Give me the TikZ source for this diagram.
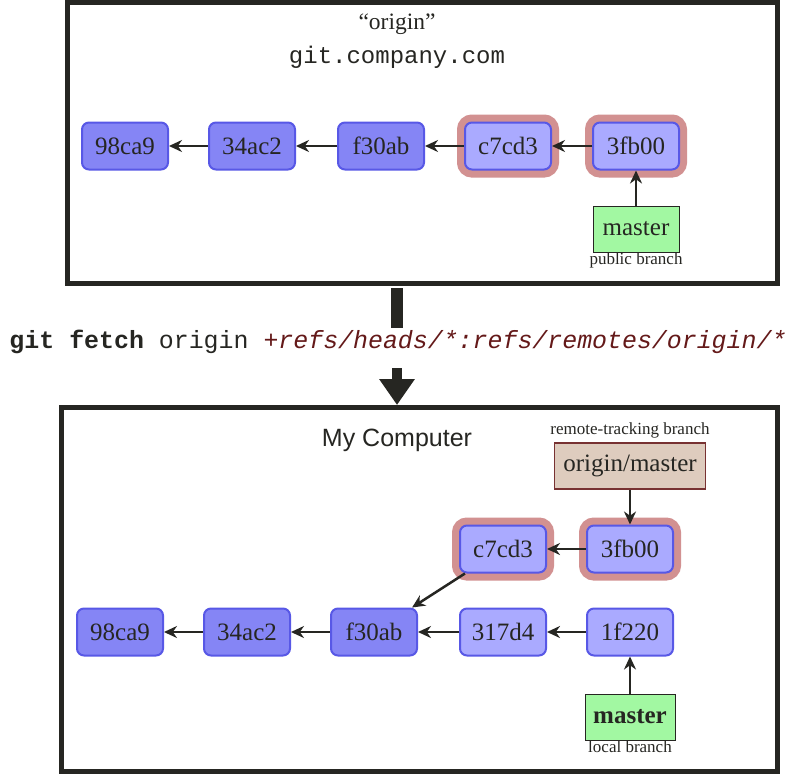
\documentclass[tikz,border=0pt]{standalone}
\usepackage{fontspec}
\setmainfont{Liberation Serif}
\setmonofont{Liberation Mono}
\setsansfont{Liberation Sans}
\usetikzlibrary{arrows.meta}
\definecolor{dkblue}{RGB}{133,133,245}
\definecolor{ltblue}{RGB}{170,170,255}
\definecolor{bluebd}{RGB}{88,88,230}
\definecolor{halo}{RGB}{210,145,145}
\definecolor{mgreen}{RGB}{162,248,162}
\definecolor{tan}{RGB}{222,204,190}
\definecolor{tanbd}{RGB}{120,50,50}
\definecolor{ink}{RGB}{38,38,34}
\definecolor{refred}{RGB}{100,25,25}
\begin{document}
\begin{tikzpicture}[x=1pt,y=-1pt,
  commit/.style={rounded corners=7pt, minimum width=86pt, minimum height=47pt, draw=bluebd, line width=2pt, inner sep=0pt, font=\fontsize{25}{27}\selectfont, text=ink},
  oldc/.style={commit, fill=dkblue},
  newc/.style={commit, fill=ltblue},
  haloc/.style={newc, preaction={draw=halo, line width=16pt}},
  branchbox/.style={draw=ink, line width=1pt, fill=mgreen, minimum width=86pt, minimum height=46pt, inner sep=0pt, font=\fontsize{25}{27}\selectfont, text=ink},
  small/.style={font=\fontsize{17}{18}\selectfont, text=ink, inner sep=0pt},
  arr/.style={draw=ink, line width=2.5pt, -{Stealth[length=13pt,width=12pt]}},
  frame/.style={draw=ink, line width=5pt, fill=white}]
\useasboundingbox (0,0) rectangle (794,774);
% top box
\node[frame, minimum width=710pt, minimum height=281pt, inner sep=0pt] (top) at (422,143) {};
\node[font=\fontsize{23.5}{25}\selectfont, text=ink] (otitle) at (397,24) {“origin”};
\node[font=\ttfamily\fontsize{24}{26}\selectfont, text=ink] (ourl) at (397,57) {git.company.com};
\node[oldc] (t1) at (125,146) {98ca9};
\node[oldc] (t2) at (252,146) {34ac2};
\node[oldc] (t3) at (381,146) {f30ab};
\node[haloc] (t4) at (508,146) {c7cd3};
\node[haloc] (t5) at (636,146) {3fb00};
\node[branchbox] (tm) at (636,229) {master};
\node[small] (tml) at (636,260) {public branch};
\draw[arr] (t2) -- (t1);
\draw[arr] (t3) -- (t2);
\draw[arr] (t4) -- (t3);
\draw[arr] (t5) -- (t4);
\draw[arr] (tm) -- (t5);
% command
\node[font=\ttfamily\fontsize{24.9}{27}\selectfont, text=ink, inner sep=0pt] (cmd) at (398,342)
  {\textbf{git fetch} origin \textcolor{refred}{\itshape +refs/heads/*:refs/remotes/origin/*}};
% bottom box
\node[frame, minimum width=716pt, minimum height=364pt, inner sep=0pt] (bot) at (419.5,589.5) {};
\coordinate (barA) at (397,288);
\coordinate (barB) at (397,328);
\coordinate (arA) at (397,368);
\draw[ink, line width=12pt] (barA) -- (barB);
\draw[ink, line width=10pt, -{Triangle[length=26pt,width=34pt]}] (arA) -- (arA |- bot.north);
\node[font=\sffamily\fontsize{25}{27}\selectfont, text=ink] (mytitle) at (397,440) {My Computer};
\node[small] (rtl) at (630,430) {remote-tracking branch};
\node[draw=tanbd, line width=1.2pt, fill=tan, minimum width=151pt, minimum height=46pt, inner sep=0pt, font=\fontsize{25}{27}\selectfont, text=ink] (om) at (630,466) {origin/master};
\node[haloc] (b6) at (503,549) {c7cd3};
\node[haloc] (b7) at (630,549) {3fb00};
\node[oldc] (b1) at (120,632) {98ca9};
\node[oldc] (b2) at (247,632) {34ac2};
\node[oldc] (b3) at (374,632) {f30ab};
\node[newc] (b4) at (503,632) {317d4};
\node[newc] (b5) at (630,632) {1f220};
\node[branchbox, minimum width=90pt, font=\bfseries\fontsize{25}{27}\selectfont] (bm) at (630,717) {master};
\node[small] (bml) at (630,747) {local branch};
\draw[arr] (b2) -- (b1);
\draw[arr] (b3) -- (b2);
\draw[arr] (b4) -- (b3);
\draw[arr] (b5) -- (b4);
\draw[arr] (b7) -- (b6);
\draw[arr] (b6) -- (b3);
\draw[arr] (om) -- (b7);
\draw[arr] (bm) -- (b5);
\end{tikzpicture}
\end{document}
